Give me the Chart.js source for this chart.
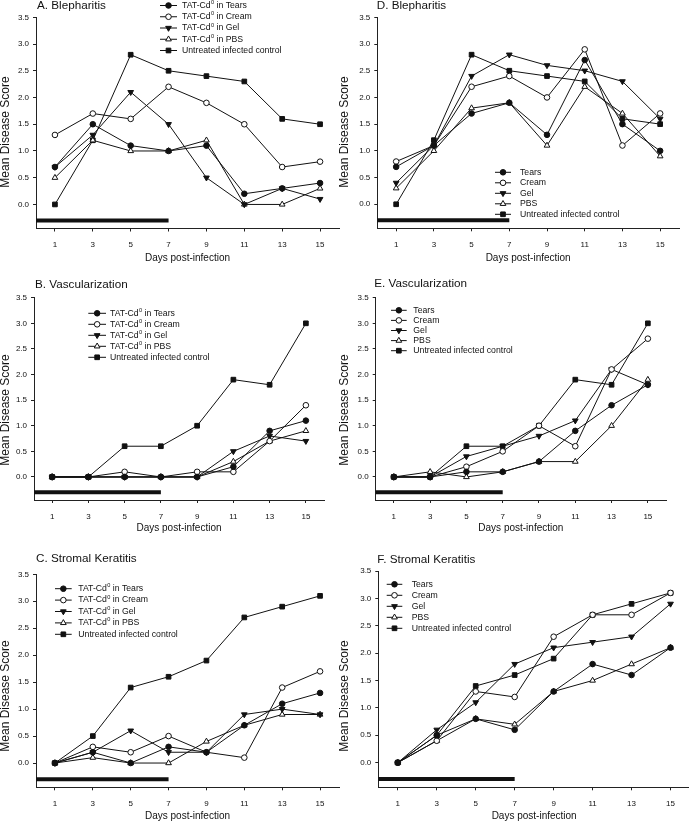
<!DOCTYPE html>
<html>
<head>
<meta charset="utf-8">
<script src="https://cdn.jsdelivr.net/npm/chart.js@4.4.1/dist/chart.umd.min.js"></script>
<style>
  html, body { margin: 0; padding: 0; background: #fff; width: 689px; height: 824px; overflow: hidden; }
  canvas { position: absolute; }
</style>
</head>
<body>
<canvas id="panelA"></canvas>
<canvas id="panelD"></canvas>
<canvas id="panelB"></canvas>
<canvas id="panelE"></canvas>
<canvas id="panelC"></canvas>
<canvas id="panelF"></canvas>
<script>
// days post-infection and axis ticks
const DAYS = [1, 3, 5, 7, 9, 11, 13, 15];
const DAY_TICKS = [1, 3, 5, 7, 9, 11, 13, 15];
const SCORE_TICKS = [0, 0.5, 1.0, 1.5, 2.0, 2.5, 3.0, 3.5];

// treatment period bar (days 0-7)
const TREATMENT_DAYS = [0, 7];
const TREATMENT_LEVEL = -0.3;

const NAMES_LONG = ['TAT-Cd⁰ in Tears', 'TAT-Cd⁰ in Cream', 'TAT-Cd⁰ in Gel', 'TAT-Cd⁰ in PBS', 'Untreated infected control'];
const NAMES_SHORT = ['Tears', 'Cream', 'Gel', 'PBS', 'Untreated infected control'];

// blepharitis
const A_TEARS = [0.7, 1.5, 1.1, 1.0, 1.1, 0.2, 0.3, 0.4];
const A_CREAM = [1.3, 1.7, 1.6, 2.2, 1.9, 1.5, 0.7, 0.8];
const A_GEL   = [0.7, 1.3, 2.1, 1.5, 0.5, 0.0, 0.3, 0.1];
const A_PBS   = [0.5, 1.2, 1.0, 1.0, 1.2, 0.0, 0.0, 0.3];
const D_TEARS = [0.7, 1.1, 1.7, 1.9, 1.3, 2.7, 1.5, 1.0];
const D_CREAM = [0.8, 1.1, 2.2, 2.4, 2.0, 2.9, 1.1, 1.7];
const D_GEL   = [0.4, 1.1, 2.4, 2.8, 2.6, 2.5, 2.3, 1.6];
const D_PBS   = [0.3, 1.0, 1.8, 1.9, 1.1, 2.2, 1.7, 0.9];
const BLEPH_CONTROL = [0.0, 1.2, 2.8, 2.5, 2.4, 2.3, 1.6, 1.5];

// vascularization
const B_TEARS = [0, 0, 0, 0, 0, 0.2, 0.9, 1.1];
const B_CREAM = [0, 0, 0.1, 0, 0.1, 0.1, 0.7, 1.4];
const B_GEL   = [0, 0, 0, 0, 0, 0.5, 0.8, 0.7];
const B_PBS   = [0, 0, 0, 0, 0, 0.3, 0.7, 0.9];
const E_TEARS = [0, 0, 0.1, 0.1, 0.3, 0.9, 1.4, 1.8];
const E_CREAM = [0, 0, 0.2, 0.5, 1.0, 0.6, 2.1, 2.7];
const E_GEL   = [0, 0, 0.4, 0.6, 0.8, 1.1, 2.1, 1.8];
const E_PBS   = [0, 0.1, 0, 0.1, 0.3, 0.3, 1.0, 1.9];
const VASC_CONTROL = [0, 0, 0.6, 0.6, 1.0, 1.9, 1.8, 3.0];

// stromal keratitis
const C_TEARS = [0, 0.2, 0, 0.3, 0.2, 0.7, 1.1, 1.3];
const C_CREAM = [0, 0.3, 0.2, 0.5, 0.2, 0.1, 1.4, 1.7];
const C_GEL   = [0, 0.2, 0.6, 0.2, 0.2, 0.9, 1.0, 0.9];
const C_PBS   = [0, 0.1, 0, 0, 0.4, 0.7, 0.9, 0.9];
const F_TEARS = [0, 0.5, 0.8, 0.6, 1.3, 1.8, 1.6, 2.1];
const F_CREAM = [0, 0.4, 1.3, 1.2, 2.3, 2.7, 2.7, 3.1];
const F_GEL   = [0, 0.6, 1.1, 1.8, 2.1, 2.2, 2.3, 2.9];
const F_PBS   = [0, 0.4, 0.8, 0.7, 1.3, 1.5, 1.8, 2.1];
const STROMAL_CONTROL = [0, 0.5, 1.4, 1.6, 1.9, 2.7, 2.9, 3.1];

const FONT = '"Liberation Sans", Arial, Helvetica, sans-serif';
const INK = '#111';
const AXIS = '#222';

// marker look per series (tears, cream, gel, pbs, control)
const MARKERS = [
  { pointStyle: 'circle', radius: 2.8, rotation: 0, fill: INK },
  { pointStyle: 'circle', radius: 2.8, rotation: 0, fill: '#fff' },
  { pointStyle: 'triangle', radius: 3.3, rotation: 180, fill: INK },
  { pointStyle: 'triangle', radius: 3.3, rotation: 0, fill: '#fff' },
  { pointStyle: 'rect', radius: 3.3, rotation: 0, fill: INK }
];

// page-space layout of each panel
const LAYOUT = {
  A: { yTitleX: 6, yTitleY: 132, axisLeft: 36, axisRight: 340, areaTop: 17.3, areaBottom: 228.5, xTitleY: 258,
       title: { text: 'A. Blepharitis', x: 37, y: 5.5 },
       legend: { x0: 160, x1: 177, tx: 182, y0: 5.5, dy: 11.25 } },
  D: { yTitleX: 345, yTitleY: 132, axisLeft: 377.3, axisRight: 680, areaTop: 17.3, areaBottom: 228.3, xTitleY: 258,
       title: { text: 'D. Blepharitis', x: 376.7, y: 5.5 },
       legend: { x0: 495, x1: 511, tx: 520, y0: 172.3, dy: 10.5 } },
  B: { yTitleX: 6, yTitleY: 410, axisLeft: 34, axisRight: 325, areaTop: 297.7, areaBottom: 500, xTitleY: 528,
       title: { text: 'B. Vascularization', x: 35, y: 285 },
       legend: { x0: 88.3, x1: 106, tx: 110, y0: 313.3, dy: 11 } },
  E: { yTitleX: 345, yTitleY: 410, axisLeft: 375.7, axisRight: 666.7, areaTop: 297.7, areaBottom: 500, xTitleY: 528,
       title: { text: 'E. Vascularization', x: 374.3, y: 284 },
       legend: { x0: 391, x1: 406.7, tx: 413.3, y0: 310.3, dy: 10.1 } },
  C: { yTitleX: 6, yTitleY: 696, axisLeft: 36, axisRight: 340, areaTop: 574.3, areaBottom: 787.3, xTitleY: 816.7,
       title: { text: 'C. Stromal Keratitis', x: 36, y: 559 },
       legend: { x0: 55, x1: 71.7, tx: 78.3, y0: 588.7, dy: 11.4 } },
  F: { yTitleX: 345, yTitleY: 696, axisLeft: 378.3, axisRight: 691, areaTop: 571, areaBottom: 787.3, xTitleY: 816.7,
       title: { text: 'F. Stromal Keratitis', x: 377.3, y: 560 },
       legend: { x0: 386.7, x1: 402.3, tx: 411.7, y0: 584.3, dy: 11 } }
};

function drawMarker(ctx, m, x, y) {
  ctx.fillStyle = m.fill;
  ctx.strokeStyle = INK;
  ctx.lineWidth = 1;
  Chart.helpers.drawPoint(ctx, { pointStyle: m.pointStyle, radius: m.radius, rotation: m.rotation, borderWidth: 1 }, x, y);
}

// draws "TAT-Cd⁰ in X" with a raised small zero
function drawLegendText(ctx, text, x, y) {
  const parts = text.split('⁰');
  ctx.font = '8.7px ' + FONT;
  ctx.fillText(parts[0], x, y);
  if (parts.length < 2) return;
  let cx = x + ctx.measureText(parts[0]).width;
  ctx.font = '5.6px ' + FONT;
  ctx.fillText('0', cx + 0.3, y - 3);
  cx += ctx.measureText('0').width + 0.3;
  ctx.font = '8.7px ' + FONT;
  ctx.fillText(parts[1], cx, y);
}

function buildPanel(id, p, series, names) {
  const left = Math.floor(p.yTitleX - 7);
  const top = Math.floor(p.title.y - 9);
  const width = Math.ceil(p.axisRight + 4 - left);
  const height = Math.ceil(p.xTitleY + 8 - top);
  const canvas = document.getElementById(id);
  canvas.width = width;
  canvas.height = height;
  canvas.style.left = left + 'px';
  canvas.style.top = top + 'px';

  const yWidth = p.axisLeft - left;
  const xHeight = p.xTitleY - p.areaBottom + 5;
  const padTop = p.areaTop - top;
  const padRight = width - (p.axisRight - left);
  const padBottom = height - (p.areaBottom - top) - xHeight;

  const datasets = series.map((vals, i) => ({
    label: names[i],
    data: DAYS.map((d, k) => ({ x: d, y: vals[k] })),
    borderColor: INK,
    borderWidth: 1,
    backgroundColor: MARKERS[i].fill,
    pointStyle: MARKERS[i].pointStyle,
    pointRadius: MARKERS[i].radius,
    pointRotation: MARKERS[i].rotation,
    pointBackgroundColor: MARKERS[i].fill,
    pointBorderColor: INK,
    pointBorderWidth: 1,
    tension: 0,
    fill: false,
    clip: false
  }));
  datasets.push({
    label: 'treatment',
    data: TREATMENT_DAYS.map(d => ({ x: d, y: TREATMENT_LEVEL })),
    borderColor: INK,
    borderWidth: 4,
    borderCapStyle: 'butt',
    pointRadius: 0,
    fill: false,
    clip: false
  });

  const decor = {
    id: 'decor_' + id,
    afterDraw(chart) {
      const ctx = chart.ctx;
      ctx.save();
      ctx.fillStyle = INK;
      ctx.textBaseline = 'middle';
      ctx.textAlign = 'left';
      ctx.font = '11.7px ' + FONT;
      ctx.fillText(p.title.text, p.title.x - left, p.title.y - top);

      // y axis title, rotated
      ctx.save();
      ctx.translate(p.yTitleX - left, p.yTitleY - top);
      ctx.rotate(-Math.PI / 2);
      ctx.textAlign = 'center';
      ctx.font = '12px ' + FONT;
      ctx.fillText('Mean Disease Score', 0, 0);
      ctx.restore();

      const lg = p.legend;
      names.forEach((name, i) => {
        const y = lg.y0 + i * lg.dy - top;
        ctx.strokeStyle = INK;
        ctx.lineWidth = 1;
        ctx.beginPath();
        ctx.moveTo(lg.x0 - left, y);
        ctx.lineTo(lg.x1 - left, y);
        ctx.stroke();
        drawMarker(ctx, MARKERS[i], (lg.x0 + lg.x1) / 2 - left, y);
        ctx.fillStyle = INK;
        drawLegendText(ctx, name, lg.tx - left, y);
      });
      ctx.restore();
    }
  };

  return new Chart(canvas, {
    type: 'line',
    data: { datasets },
    options: {
      responsive: false,
      animation: false,
      events: [],
      devicePixelRatio: 1,
      layout: { padding: { left: 0, top: padTop, right: padRight, bottom: padBottom } },
      plugins: { legend: { display: false }, tooltip: { enabled: false }, title: { display: false } },
      scales: {
        x: {
          type: 'linear', min: 0, max: 16,
          afterBuildTicks: s => { s.ticks = DAY_TICKS.map(v => ({ value: v })); },
          afterFit: s => { s.height = xHeight; },
          border: { display: true, color: AXIS, width: 1 },
          grid: { display: true, drawOnChartArea: false, drawTicks: true, tickLength: 3, color: AXIS },
          ticks: { font: { family: FONT, size: 8 }, color: INK, padding: 8.5, maxRotation: 0, autoSkip: false,
                   callback: v => String(v) },
          title: { display: true, text: 'Days post-infection', color: INK, padding: 0,
                   font: { family: FONT, size: 10, lineHeight: 1 } }
        },
        y: {
          type: 'linear', min: -0.45, max: 3.5,
          afterBuildTicks: s => { s.ticks = SCORE_TICKS.map(v => ({ value: v })); },
          afterFit: s => { s.width = yWidth; },
          border: { display: true, color: AXIS, width: 1 },
          grid: { display: true, drawOnChartArea: false, drawTicks: true, tickLength: 3, color: AXIS },
          ticks: { font: { family: FONT, size: 8 }, color: INK, padding: 4, autoSkip: false,
                   callback: v => Number(v).toFixed(1) },
          title: { display: false }
        }
      }
    },
    plugins: [decor]
  });
}

buildPanel('panelA', LAYOUT.A, [A_TEARS, A_CREAM, A_GEL, A_PBS, BLEPH_CONTROL], NAMES_LONG);
buildPanel('panelD', LAYOUT.D, [D_TEARS, D_CREAM, D_GEL, D_PBS, BLEPH_CONTROL], NAMES_SHORT);
buildPanel('panelB', LAYOUT.B, [B_TEARS, B_CREAM, B_GEL, B_PBS, VASC_CONTROL], NAMES_LONG);
buildPanel('panelE', LAYOUT.E, [E_TEARS, E_CREAM, E_GEL, E_PBS, VASC_CONTROL], NAMES_SHORT);
buildPanel('panelC', LAYOUT.C, [C_TEARS, C_CREAM, C_GEL, C_PBS, STROMAL_CONTROL], NAMES_LONG);
buildPanel('panelF', LAYOUT.F, [F_TEARS, F_CREAM, F_GEL, F_PBS, STROMAL_CONTROL], NAMES_SHORT);
</script>
</body>
</html>
